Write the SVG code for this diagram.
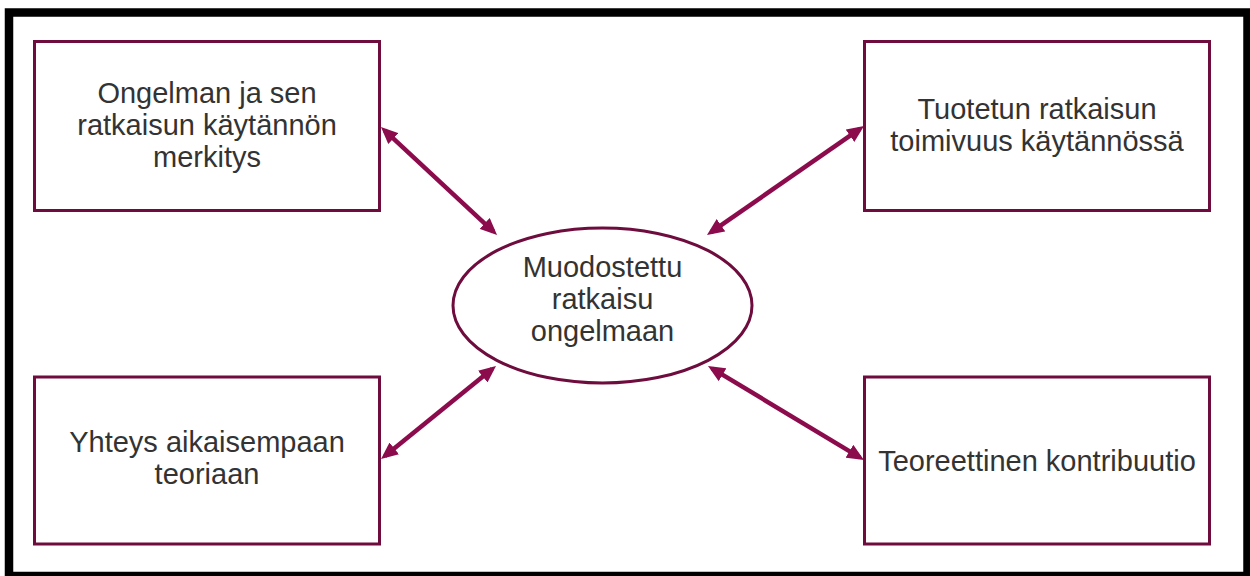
<svg xmlns="http://www.w3.org/2000/svg" width="1250" height="576" viewBox="0 0 1250 576">
  <style>
    .box { fill: #ffffff; stroke: #6e0c3d; stroke-width: 3; }
    .hub { fill: #ffffff; stroke: #6e0c3d; stroke-width: 3; }
    .label { font-family: "Liberation Sans", Arial, sans-serif; font-size: 29px; fill: #333333; text-anchor: middle; }
    .link { stroke: #8c0b4c; stroke-width: 4.5; fill: none; marker-start: url(#head); marker-end: url(#head); }
  </style>
  <defs>
    <marker id="head" viewBox="0 0 17 15" markerWidth="17" markerHeight="15" refX="12" refY="7.5" orient="auto-start-reverse" markerUnits="userSpaceOnUse">
      <path d="M0,0 L17,7.5 L0,15 z" fill="#8c0b4c"/>
    </marker>
  </defs>

  <rect x="0" y="0" width="1250" height="576" fill="#ffffff"/>
  <!-- outer frame -->
  <rect x="9" y="12.5" width="1238.5" height="563.5" fill="none" stroke="#000000" stroke-width="8.5"/>

  <g id="connectors">
    <line class="link" x1="384.6" y1="130.4" x2="493.4" y2="231.6"/>
    <line class="link" x1="859.9" y1="128.9" x2="711.1" y2="232.1"/>
    <line class="link" x1="492.1" y1="369.1" x2="384.9" y2="455.9"/>
    <line class="link" x1="712.3" y1="368.6" x2="859.7" y2="457.4"/>
  </g>

  <g id="practical-relevance">
    <rect class="box" x="34.5" y="41.5" width="345" height="169"/>
    <text class="label" x="207" y="103">Ongelman ja sen</text>
    <text class="label" x="207" y="135">ratkaisun käytännön</text>
    <text class="label" x="207" y="167">merkitys</text>
  </g>

  <g id="practical-functionality">
    <rect class="box" x="864.5" y="41.5" width="345" height="169"/>
    <text class="label" x="1037" y="119">Tuotetun ratkaisun</text>
    <text class="label" x="1037" y="151">toimivuus käytännössä</text>
  </g>

  <g id="prior-theory">
    <rect class="box" x="34.5" y="377" width="345" height="167"/>
    <text class="label" x="207" y="452">Yhteys aikaisempaan</text>
    <text class="label" x="207" y="484">teoriaan</text>
  </g>

  <g id="theoretical-contribution">
    <rect class="box" x="864.5" y="377" width="345" height="167"/>
    <text class="label" x="1037" y="471">Teoreettinen kontribuutio</text>
  </g>

  <g id="solution">
    <ellipse class="hub" cx="602.5" cy="305.5" rx="149.5" ry="77.5"/>
    <text class="label" x="602.5" y="277">Muodostettu</text>
    <text class="label" x="602.5" y="309">ratkaisu</text>
    <text class="label" x="602.5" y="341">ongelmaan</text>
  </g>
</svg>
